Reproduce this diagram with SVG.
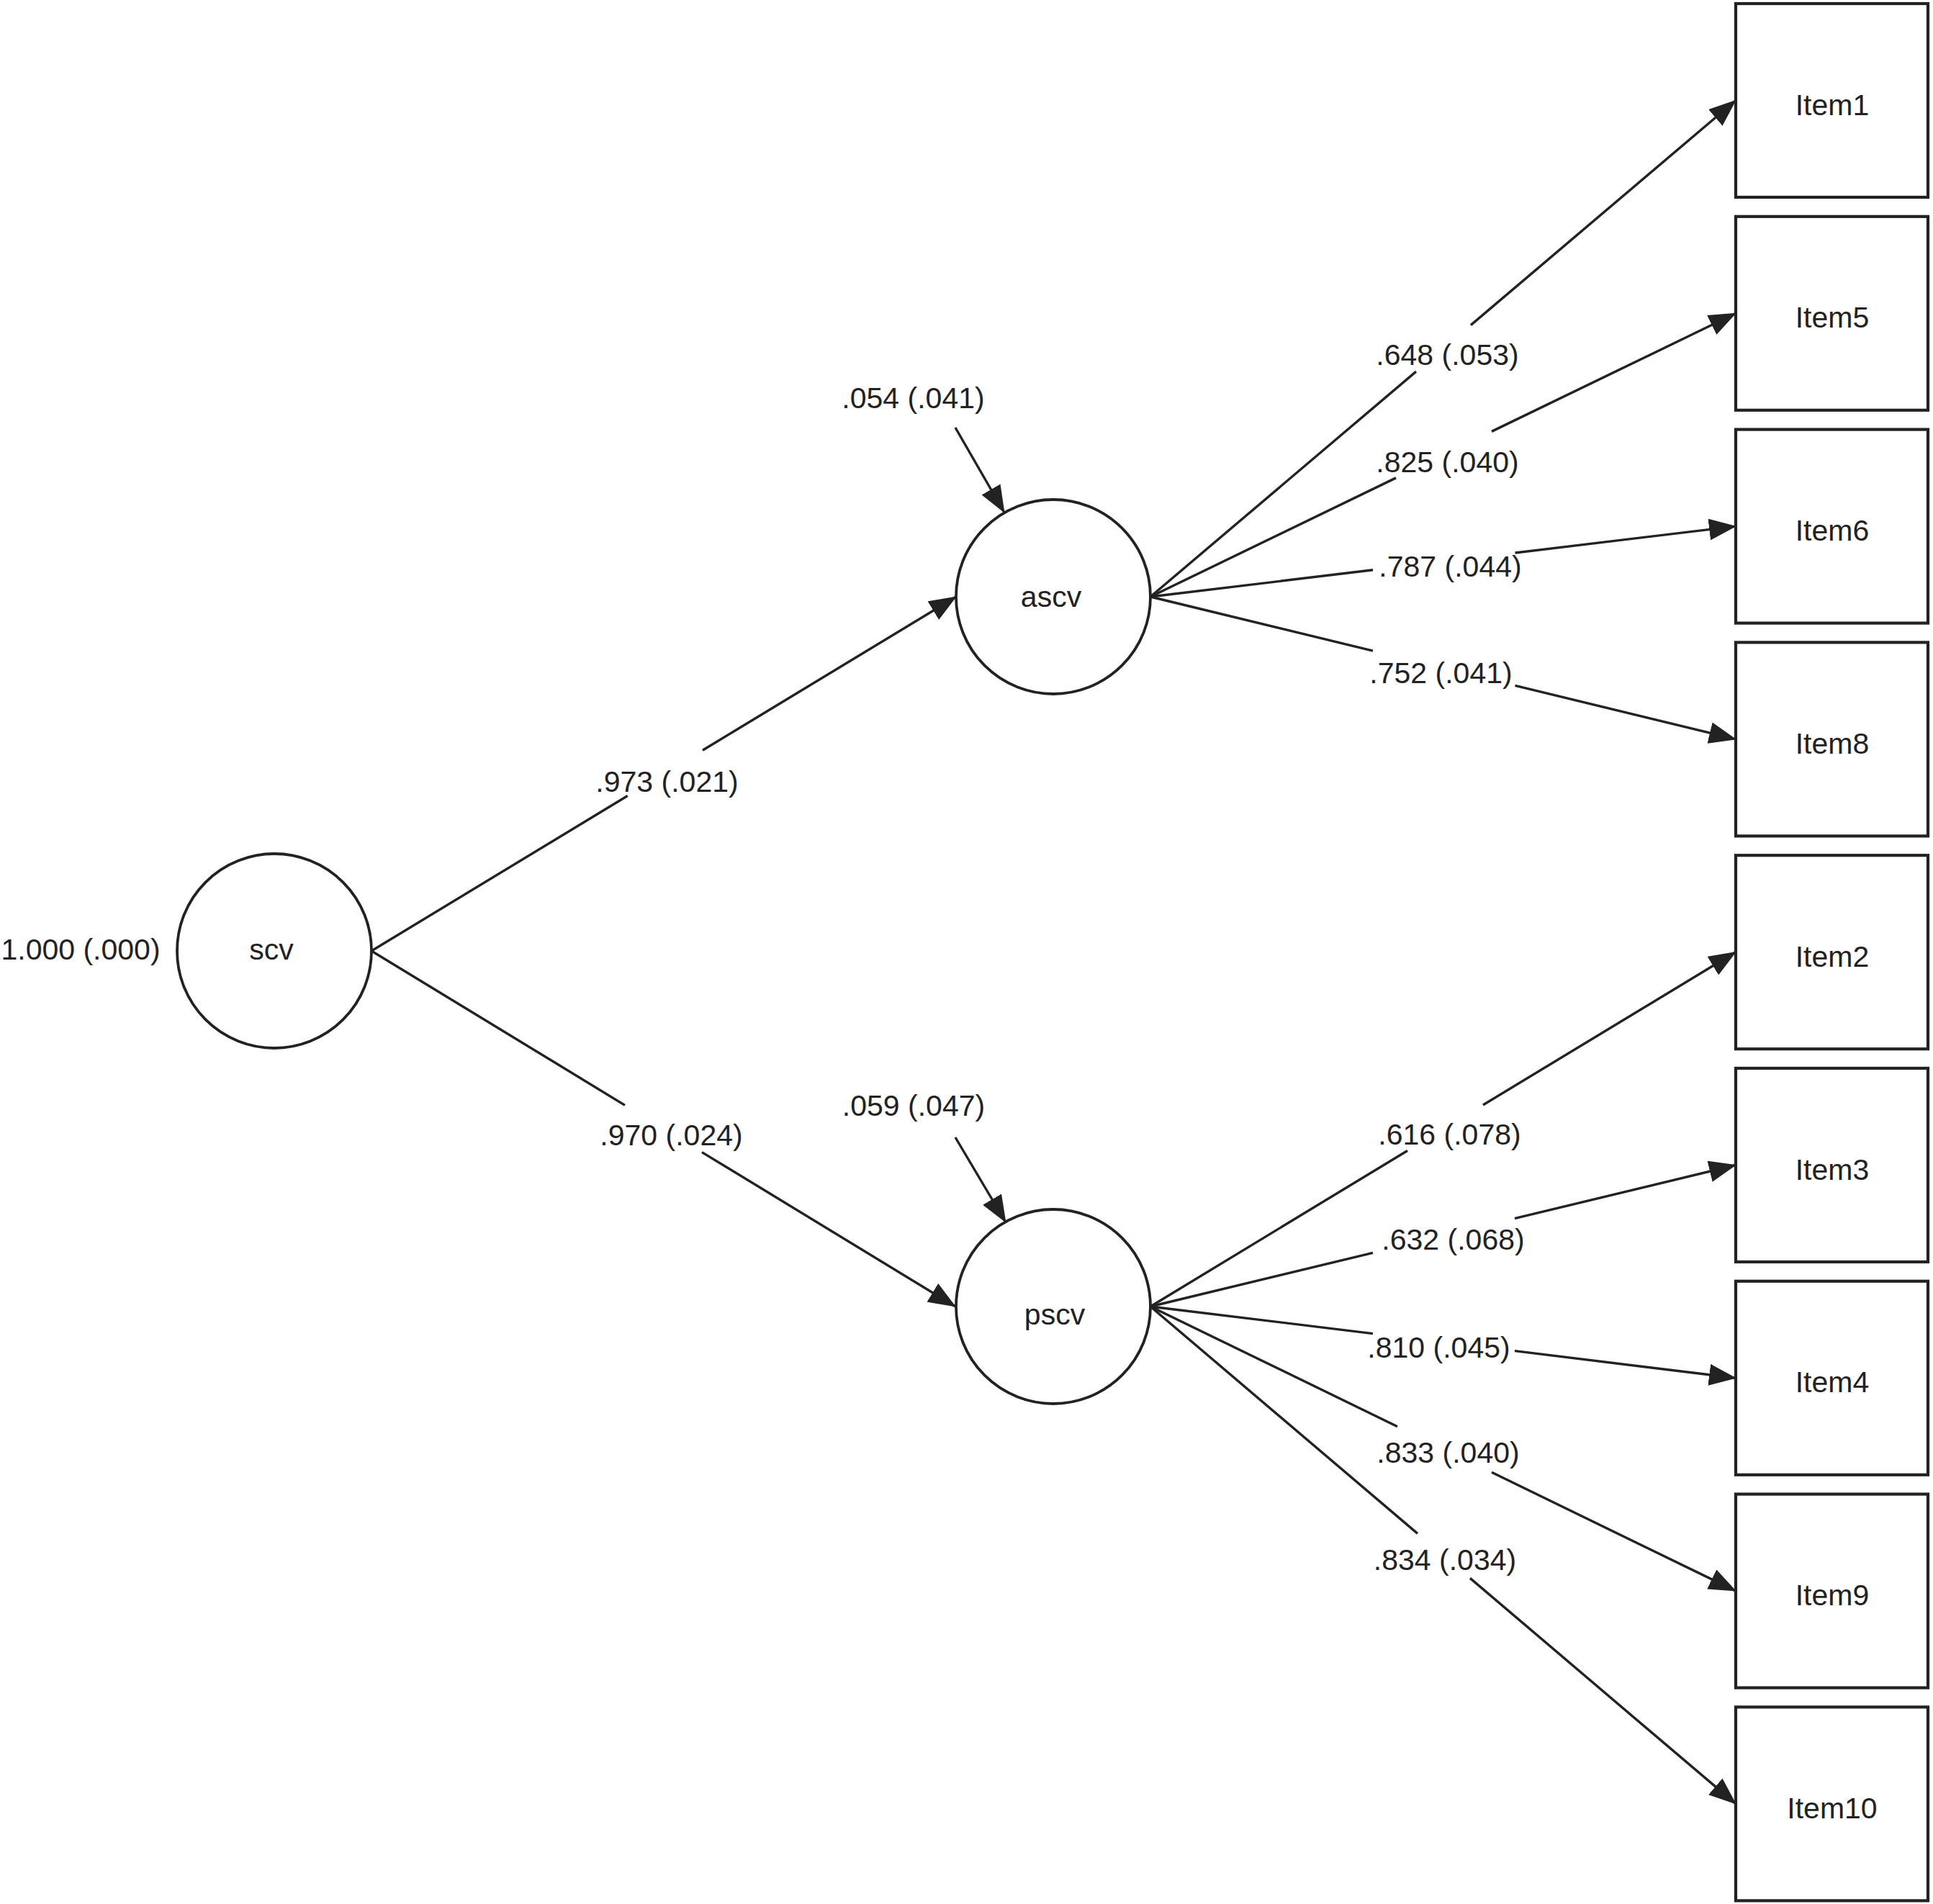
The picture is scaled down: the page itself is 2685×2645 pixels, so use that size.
<svg xmlns="http://www.w3.org/2000/svg" width="2685" height="2645" viewBox="0 0 2685 2645">
<defs>
<marker id="arr" markerUnits="userSpaceOnUse" markerWidth="38" markerHeight="30" viewBox="0 0 38 30" refX="37" refY="15" orient="auto">
<path d="M0,0 L38,15 L0,30 z" fill="#222"/>
</marker>
<style>
.lat{fill:#fff;stroke:#222;stroke-width:3.8}
.obs{fill:#fff;stroke:#222;stroke-width:4.2}
.e{stroke:#222;stroke-width:3.4;fill:none}
.a{marker-end:url(#arr)}
text{font-family:"Liberation Sans",Arial,Helvetica,sans-serif;font-size:41px;fill:#222;text-anchor:middle}
</style>
</defs>
<rect width="2685" height="2645" fill="#fff"/>

<g id="connectors">
<!-- scv -> ascv -->
<line class="e" x1="516" y1="1321" x2="871.7" y2="1105.5"/>
<line class="e a" x1="976" y1="1042.3" x2="1328" y2="829"/>
<!-- scv -> pscv -->
<line class="e" x1="516" y1="1321" x2="868" y2="1535.4"/>
<line class="e a" x1="975" y1="1600.6" x2="1327" y2="1815"/>
<!-- residuals -->
<line class="e a" x1="1327" y1="594" x2="1395" y2="712"/>
<line class="e a" x1="1327" y1="1580" x2="1397" y2="1698"/>
<!-- ascv -> items -->
<line class="e" x1="1598" y1="829" x2="1967" y2="516.1"/>
<line class="e a" x1="2043" y1="451.6" x2="2411" y2="139.5"/>
<line class="e" x1="1598" y1="829" x2="1939" y2="663.9"/>
<line class="e a" x1="2072" y1="599.4" x2="2411" y2="435.3"/>
<line class="e" x1="1598" y1="829" x2="1907" y2="791.8"/>
<line class="e a" x1="2104.5" y1="768" x2="2411" y2="731.1"/>
<line class="e" x1="1598" y1="829" x2="1907" y2="904.2"/>
<line class="e a" x1="2104.5" y1="952.3" x2="2411" y2="1026.9"/>
<!-- pscv -> items -->
<line class="e" x1="1598" y1="1815" x2="1955" y2="1598.5"/>
<line class="e a" x1="2060" y1="1535" x2="2411" y2="1322.5"/>
<line class="e" x1="1598" y1="1815" x2="1907" y2="1740.3"/>
<line class="e a" x1="2104" y1="1692.6" x2="2411" y2="1618.5"/>
<line class="e" x1="1598" y1="1815" x2="1907" y2="1852.6"/>
<line class="e a" x1="2104" y1="1876.6" x2="2411" y2="1914.3"/>
<line class="e" x1="1598" y1="1815" x2="1941" y2="1981.7"/>
<line class="e a" x1="2072" y1="2045.3" x2="2411" y2="2210.1"/>
<line class="e" x1="1598" y1="1815" x2="1969" y2="2130.4"/>
<line class="e a" x1="2042" y1="2192.4" x2="2411" y2="2505.9"/>
</g>

<g id="edge-labels">
<text x="926.5" y="1100">.973 (.021)</text>
<text x="932.5" y="1591">.970 (.024)</text>
<text x="1268.5" y="567">.054 (.041)</text>
<text x="1269" y="1550">.059 (.047)</text>
<text x="112" y="1333">1.000 (.000)</text>
<text x="2010.5" y="507">.648 (.053)</text>
<text x="2010.5" y="656">.825 (.040)</text>
<text x="2014.5" y="801">.787 (.044)</text>
<text x="2001.5" y="949">.752 (.041)</text>
<text x="2013.5" y="1590">.616 (.078)</text>
<text x="2018.5" y="1736">.632 (.068)</text>
<text x="1998.5" y="1886">.810 (.045)</text>
<text x="2011.5" y="2032">.833 (.040)</text>
<text x="2007" y="2181">.834 (.034)</text>
</g>

<g id="scv"><circle class="lat" cx="381" cy="1321" r="135"/><text x="377" y="1333">scv</text></g>
<g id="ascv"><circle class="lat" cx="1463" cy="829" r="135"/><text x="1460" y="843">ascv</text></g>
<g id="pscv"><circle class="lat" cx="1463" cy="1815" r="135"/><text x="1465" y="1840">pscv</text></g>

<g id="Item1"><rect class="obs" x="2411" y="5" width="267" height="269"/><text x="2545" y="159.5">Item1</text></g>
<g id="Item5"><rect class="obs" x="2411" y="300.8" width="267" height="269"/><text x="2545" y="455.3">Item5</text></g>
<g id="Item6"><rect class="obs" x="2411" y="596.6" width="267" height="269"/><text x="2545" y="751.1">Item6</text></g>
<g id="Item8"><rect class="obs" x="2411" y="892.4" width="267" height="269"/><text x="2545" y="1046.9">Item8</text></g>
<g id="Item2"><rect class="obs" x="2411" y="1188.2" width="267" height="269"/><text x="2545" y="1342.7">Item2</text></g>
<g id="Item3"><rect class="obs" x="2411" y="1484" width="267" height="269"/><text x="2545" y="1638.5">Item3</text></g>
<g id="Item4"><rect class="obs" x="2411" y="1779.8" width="267" height="269"/><text x="2545" y="1934.3">Item4</text></g>
<g id="Item9"><rect class="obs" x="2411" y="2075.6" width="267" height="269"/><text x="2545" y="2230.1">Item9</text></g>
<g id="Item10"><rect class="obs" x="2411" y="2371.4" width="267" height="269"/><text x="2545" y="2525.9">Item10</text></g>
</svg>
